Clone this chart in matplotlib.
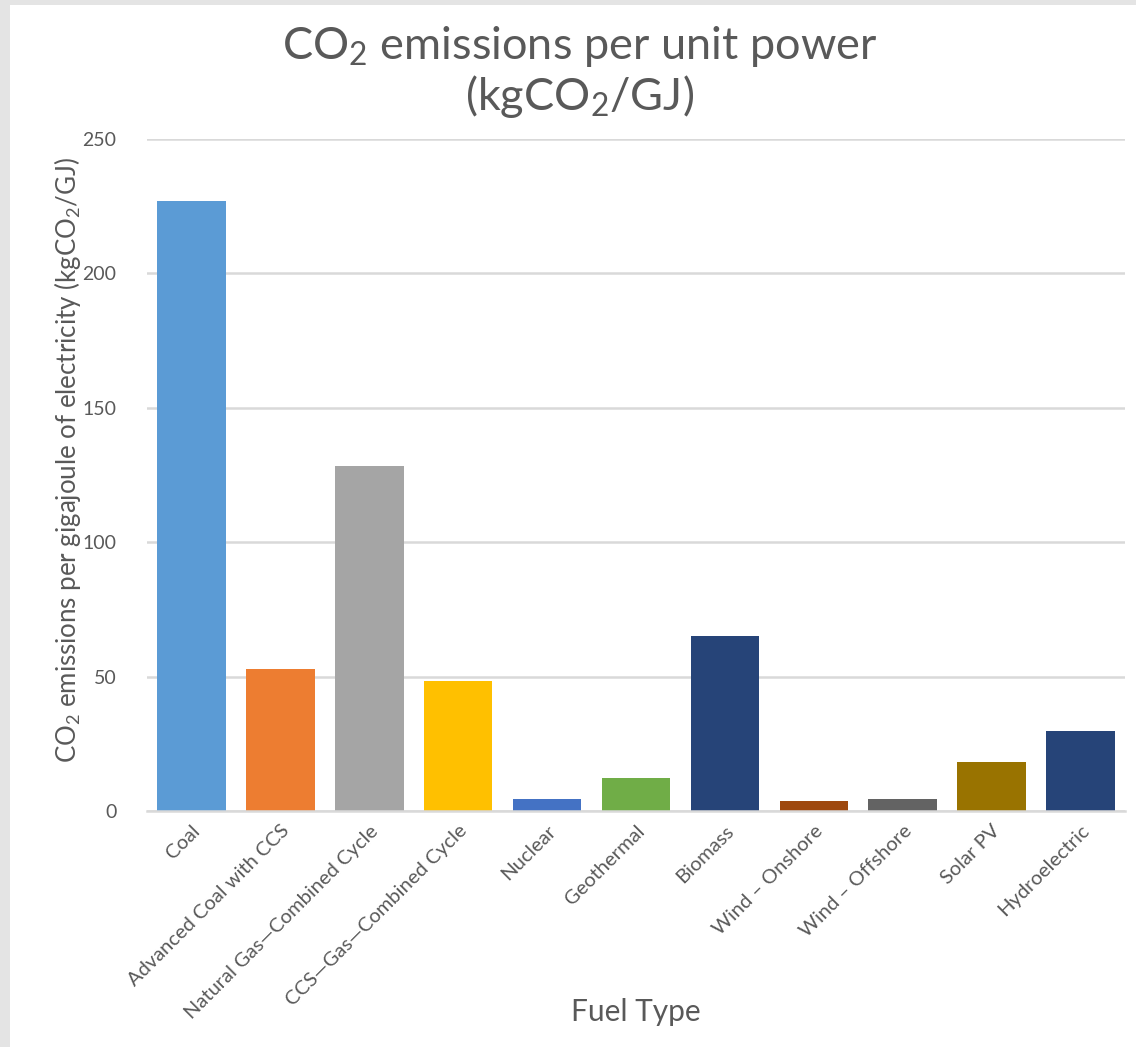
import matplotlib
matplotlib.use("Agg")
import matplotlib.pyplot as plt
from matplotlib.patches import Rectangle

# Data
fuel_types = [
    "Coal",
    "Advanced Coal with CCS",
    "Natural Gas\u2014Combined Cycle",
    "CCS\u2014Gas\u2014Combined Cycle",
    "Nuclear",
    "Geothermal",
    "Biomass",
    "Wind \u2013 Onshore",
    "Wind \u2013 Offshore",
    "Solar PV",
    "Hydroelectric",
]
emissions = [227, 53, 128.3, 48.5, 4.6, 12.3, 65.2, 3.9, 4.3, 18.1, 29.6]
bar_colors = [
    "#5B9BD5", "#ED7D31", "#A5A5A5", "#FFC000", "#4472C4", "#70AD47",
    "#264478", "#9E480E", "#636363", "#997300", "#264478",
]
y_ticks = [0, 50, 100, 150, 200, 250]

plt.rcParams["font.family"] = ["Lato", "DejaVu Sans"]
plt.rcParams["mathtext.default"] = "regular"

W, H = 1136, 1047
fig = plt.figure(figsize=(W / 100, H / 100), dpi=100)
fig.patch.set_facecolor("#e4e4e4")

# white chart panel
fig.patches.append(Rectangle((10 / W, 0), 1 - 10 / W, 1 - 5 / H,
                             transform=fig.transFigure, facecolor="white",
                             edgecolor="none", zorder=-5))

ax = fig.add_axes([147 / W, 236 / H, (1125 - 147) / W, (811 - 139) / H])
ax.set_zorder(2)
ax.set_facecolor("none")

x = range(len(fuel_types))
ax.bar(x, emissions, width=0.77, color=bar_colors, zorder=3)

ax.set_xlim(-0.5, len(fuel_types) - 0.5)
ax.set_ylim(0, 250)
ax.set_yticks(y_ticks)
ax.set_yticklabels([str(t) for t in y_ticks])
ax.yaxis.grid(True, color="#d9d9d9", linewidth=1.8, zorder=0)
ax.set_axisbelow(True)

for s in ["left", "right", "top"]:
    ax.spines[s].set_visible(False)
ax.spines["bottom"].set_color("#d9d9d9")
ax.spines["bottom"].set_linewidth(1.8)
ax.spines["bottom"].set_zorder(4)

ax.tick_params(axis="y", length=0, pad=22, labelsize=14, labelcolor="#595959")
ax.tick_params(axis="x", length=0, pad=8, labelsize=14.5, labelcolor="#595959")
ax.set_xticks(list(x))
ax.set_xticklabels(fuel_types, rotation=45, ha="right", rotation_mode="anchor")

fig.text(580 / W, 1 - 72 / H, "CO$_2$ emissions per unit power\n(kgCO$_2$/GJ)",
         ha="center", va="center", fontsize=32.5, color="#595959",
         linespacing=1.1)
fig.text(68 / W, 1 - 460 / H,
         "CO$_2$ emissions per gigajoule of electricity (kgCO$_2$/GJ)",
         rotation=90, ha="center", va="center", fontsize=18.6, color="#595959")
fig.text(636 / W, 1 - 1012 / H, "Fuel Type", ha="center", va="center",
         fontsize=21.5, color="#595959")

fig.savefig("out.png", dpi=100, facecolor=fig.get_facecolor())
